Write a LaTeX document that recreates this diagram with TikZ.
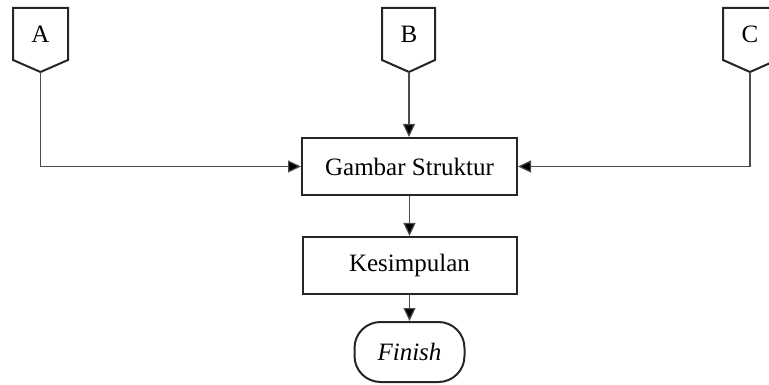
\documentclass[tikz,border=0pt]{standalone}
\usepackage{fontspec}
\setmainfont{Liberation Serif}
\usetikzlibrary{arrows.meta}
\begin{document}
\begin{tikzpicture}[x=1pt,y=-1pt,
  boxstyle/.style={draw=black!85,line width=2pt},
  conn/.style={draw=black!70,line width=1.2pt},
  arr/.style={conn,-{Triangle[length=13pt,width=12pt,fill=black]}},
  lbl/.style={inner sep=0pt,font=\fontsize{25}{30}\selectfont}]
\useasboundingbox (0,0) rectangle (769,385);
\clip (0,0) rectangle (769,385);
% off-page connectors
\draw[boxstyle] (13,8) -- (68,8) -- (68,60) -- (40.5,72) -- (13,60) -- cycle;
\coordinate (Ap) at (40.5,72);
\node[lbl] (A) at (40.5,34) {A};
\draw[boxstyle] (382,8) -- (435,8) -- (435,60) -- (409,72) -- (382,60) -- cycle;
\coordinate (Bp) at (409,72);
\node[lbl] (B) at (409,34) {B};
\draw[boxstyle] (723,8) -- (777,8) -- (777,60) -- (750,72) -- (723,60) -- cycle;
\coordinate (Cp) at (750,72);
\node[lbl] (C) at (750,34) {C};
% boxes
\node[boxstyle,lbl,minimum width=215pt,minimum height=57pt] (G) at (409.5,166.5) {Gambar Struktur};
\node[boxstyle,lbl,minimum width=214pt,minimum height=57pt] (K) at (409.5,265.5) {Kesimpulan};
\node[boxstyle,lbl,rounded corners=26pt,minimum width=110pt,minimum height=60pt,font=\fontsize{25}{30}\selectfont\itshape] (F) at (409.5,352) {Finish};
% connectors
\draw[arr] (Ap) |- (G.west);
\draw[arr] (Bp) -- (B|-G.north);
\draw[arr] (Cp) |- (G.east);
\draw[arr] (G.south) -- (K.north);
\draw[arr] (K.south) -- (F.north);
\end{tikzpicture}
\end{document}
